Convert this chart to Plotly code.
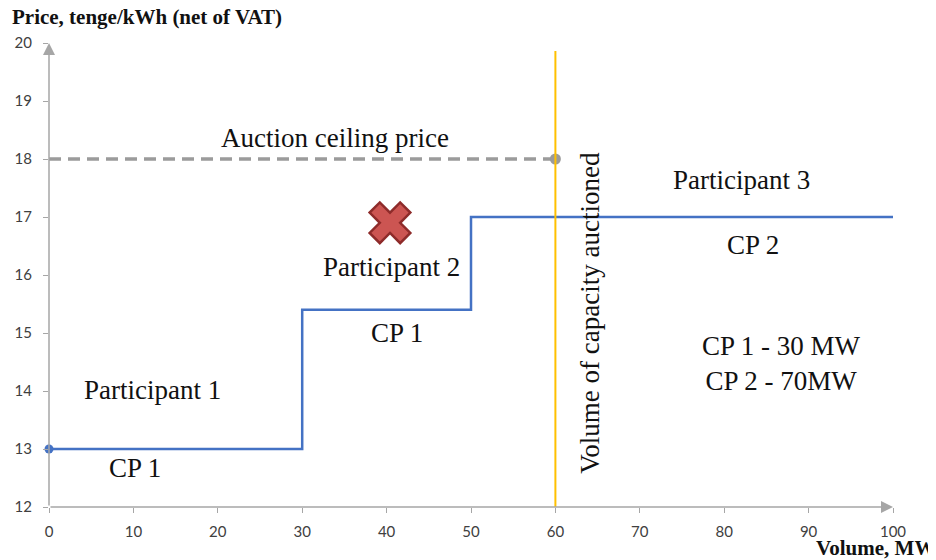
import plotly.graph_objects as go

# --- data ---
step_volume = [0, 30, 30, 50, 50, 100]
step_price = [13, 13, 15.4, 15.4, 17, 17]
ceiling_volume = [0, 60]
ceiling_price = [18, 18]
auction_volume = [60, 60]
auction_price_span = [12, 19.86]
rejected_volume = [40.4]
rejected_price = [16.9]
x_ticks = [0, 10, 20, 30, 40, 50, 60, 70, 80, 90, 100]
y_ticks = [12, 13, 14, 15, 16, 17, 18, 19, 20]

label_texts = ["Auction ceiling price", "Participant 3", "CP 2", "Participant 2", "CP 1",
               "Participant 1", "CP 1", "CP 1 - 30 MW<br>CP 2 - 70MW"]
label_x = [33.9, 82.1, 83.4, 40.6, 41.2, 12.3, 10.2, 86.8]
label_y = [18.37, 17.63, 16.51, 16.13, 15.0, 14.01, 12.68, 14.47]
vertical_label = "Volume of capacity auctioned"

SERIF = "Liberation Serif, Times New Roman, serif"
AXIS_GRAY = "#A6A6A6"
TXT = "#111111"

fig = go.Figure()

fig.add_trace(go.Scatter(x=ceiling_volume, y=ceiling_price, mode="lines",
                         line=dict(color="#9B9B9B", width=3.5, dash="12px,7px"),
                         cliponaxis=False, hoverinfo="skip"))
fig.add_trace(go.Scatter(x=[ceiling_volume[-1]], y=[ceiling_price[-1]], mode="markers",
                         marker=dict(color="#9B9B9B", size=11),
                         cliponaxis=False, hoverinfo="skip"))
fig.add_trace(go.Scatter(x=step_volume, y=step_price, mode="lines",
                         line=dict(color="#4472C4", width=2.5),
                         cliponaxis=False, hoverinfo="skip"))
fig.add_trace(go.Scatter(x=[step_volume[0]], y=[step_price[0]], mode="markers",
                         marker=dict(color="#4472C4", size=9),
                         cliponaxis=False, hoverinfo="skip"))
fig.add_trace(go.Scatter(x=auction_volume, y=auction_price_span, mode="lines",
                         line=dict(color="#FFC000", width=2),
                         cliponaxis=False, hoverinfo="skip"))
fig.add_trace(go.Scatter(x=rejected_volume, y=rejected_price, mode="markers",
                         marker=dict(symbol="x", color="#CC5552", size=36,
                                     line=dict(color="#8E2B2A", width=2.5)),
                         cliponaxis=False, hoverinfo="skip"))

annotations = []
for t, x, y in zip(label_texts, label_x, label_y):
    annotations.append(dict(x=x, y=y, xref="x", yref="y", text=t, showarrow=False,
                            font=dict(family=SERIF, size=27, color=TXT)))
annotations.append(dict(x=64.1, y=15.35, xref="x", yref="y", text=vertical_label,
                        textangle=-90, showarrow=False,
                        font=dict(family=SERIF, size=27, color=TXT)))
# axis arrows
annotations.append(dict(x=0, y=20, ax=0, ay=12, xref="x", yref="y", axref="x", ayref="y",
                        text="", showarrow=True, arrowhead=2, arrowsize=1.6,
                        arrowwidth=1.5, arrowcolor=AXIS_GRAY, standoff=0))
annotations.append(dict(x=100, y=12, ax=0, ay=12, xref="x", yref="y", axref="x", ayref="y",
                        text="", showarrow=True, arrowhead=2, arrowsize=1.6,
                        arrowwidth=1.5, arrowcolor=AXIS_GRAY, standoff=0))
# axis titles
annotations.append(dict(x=-0.046, y=1.055, xref="paper", yref="paper",
                        text="<b>Price, tenge/kWh (net of VAT)</b>", showarrow=False,
                        xanchor="left", yanchor="middle",
                        font=dict(family=SERIF, size=21, color=TXT)))
annotations.append(dict(x=0.906, y=-0.089, xref="paper", yref="paper",
                        text="<b>Volume, MW</b>", showarrow=False,
                        xanchor="left", yanchor="middle",
                        font=dict(family=SERIF, size=21, color=TXT)))

tickfont = dict(family="Lato, Carlito, sans-serif", size=15, color="#404040")
fig.update_layout(
    width=936, height=560,
    margin=dict(l=41, r=51, t=35, b=61, autoexpand=False),
    paper_bgcolor="white", plot_bgcolor="white",
    showlegend=False,
    annotations=annotations,
    xaxis=dict(range=[0, 100], tickvals=x_ticks, showgrid=False, zeroline=False,
               showline=False, ticks="outside", ticklen=5, tickcolor=AXIS_GRAY,
               tickfont=tickfont, ticklabelstandoff=6, automargin=False),
    yaxis=dict(range=[12, 20], tickvals=y_ticks, showgrid=False, zeroline=False,
               showline=False, ticks="outside", ticklen=5, tickcolor=AXIS_GRAY,
               tickfont=tickfont, ticklabelstandoff=8, automargin=False),
)

fig.write_html("out.html")
